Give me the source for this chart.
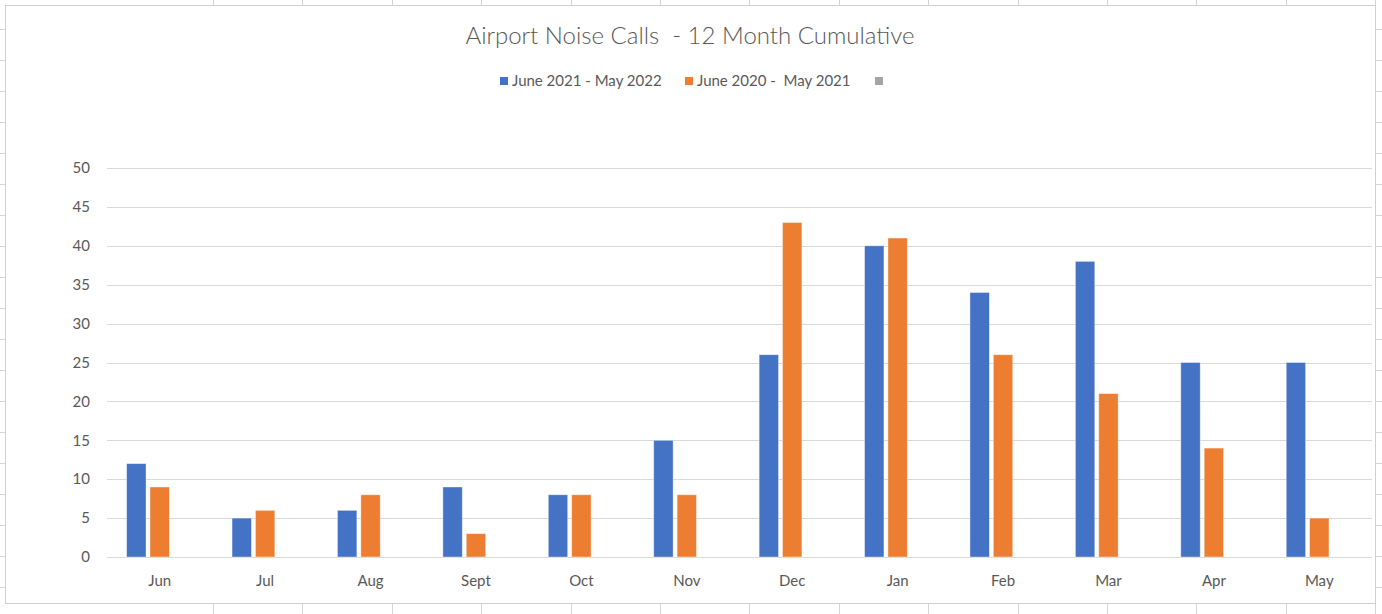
<!DOCTYPE html>
<html>
<head>
<meta charset="utf-8">
<script src="https://cdn.jsdelivr.net/npm/d3@7"></script>
<style>
  body { margin: 0; background: #fff; }
  svg { display: block; }
</style>
</head>
<body>
<div class="chart"></div>
<script>
// months along the x axis
const months = ["Jun", "Jul", "Aug", "Sept", "Oct", "Nov", "Dec", "Jan", "Feb", "Mar", "Apr", "May"]
// series names, the third one has no data in the workbook
const seriesNames = ["June 2021 - May 2022", "June 2020 -  May 2021", ""]
const calls2122 = [12, 5, 6, 9, 8, 15, 26, 40, 34, 38, 25, 25]
const calls2021 = [9, 6, 8, 3, 8, 8, 43, 41, 26, 21, 14, 5]
const callsEmpty = [null, null, null, null, null, null, null, null, null, null, null, null]
const yTicks = [0, 5, 10, 15, 20, 25, 30, 35, 40, 45, 50]

const colors = ["#4472C4", "#ED7D31", "#A5A5A5"]

const width = 1382
const height = 614
const margin = { top: 168, bottom: 57, left: 107, right: 10 }

const svg = d3
  .select(".chart")
  .append("svg")
  .attr("width", width)
  .attr("height", height)

// faint spreadsheet cells behind the chart object
const cellLines = svg.append("g").attr("stroke", "#d4d4d4").attr("stroke-width", 1)
d3.range(213, width, 89.4).forEach((x) => {
  cellLines.append("line").attr("x1", Math.round(x) + 0.5).attr("x2", Math.round(x) + 0.5).attr("y1", 0).attr("y2", height)
})
d3.range(29, height, 31).forEach((y) => {
  cellLines.append("line").attr("x1", 0).attr("x2", width).attr("y1", y + 0.5).attr("y2", y + 0.5)
})

// chart area
svg
  .append("rect")
  .attr("x", 5.5)
  .attr("y", 5.5)
  .attr("width", 1370)
  .attr("height", 598)
  .attr("fill", "#fff")
  .attr("stroke", "#d0d0d0")

const x = d3
  .scaleBand()
  .domain(months)
  .range([margin.left, width - margin.right])

// 3 slots per month, the empty third series still takes its place
const xInner = d3
  .scaleBand()
  .domain(d3.range(3))
  .range([0, x.bandwidth()])
  .paddingInner(0.17)
  .paddingOuter(0.84)

const y = d3
  .scaleLinear()
  .domain([0, 50])
  .range([height - margin.bottom, margin.top])

// gridlines
svg
  .append("g")
  .selectAll("line")
  .data(yTicks)
  .join("line")
  .attr("x1", margin.left)
  .attr("x2", width - margin.right)
  .attr("y1", (d) => Math.round(y(d)) + 0.5)
  .attr("y2", (d) => Math.round(y(d)) + 0.5)
  .attr("stroke", "#d9d9d9")
  .attr("stroke-width", 1.2)

// y labels
svg
  .append("g")
  .selectAll("text")
  .data(yTicks)
  .join("text")
  .attr("x", 90)
  .attr("y", (d) => y(d))
  .attr("dy", "0.35em")
  .attr("text-anchor", "end")
  .attr("font-family", "Lato, sans-serif")
  .attr("font-size", "15px")
  .attr("fill", "#595959")
  .text((d) => d)

// x labels
svg
  .append("g")
  .selectAll("text")
  .data(months)
  .join("text")
  .attr("x", (d) => x(d) + x.bandwidth() / 2)
  .attr("y", 586)
  .attr("text-anchor", "middle")
  .attr("font-family", "Lato, sans-serif")
  .attr("font-size", "15px")
  .attr("fill", "#595959")
  .text((d) => d)

// bars
const series = [calls2122, calls2021, callsEmpty]
const barData = []
series.forEach((vals, s) => {
  vals.forEach((v, i) => {
    if (v != null) barData.push({ month: months[i], s: s, value: v })
  })
})

svg
  .append("g")
  .selectAll("rect")
  .data(barData)
  .join("rect")
  .attr("x", (d) => x(d.month) + xInner(d.s))
  .attr("width", xInner.bandwidth())
  .attr("y", (d) => y(d.value))
  .attr("height", (d) => y(0) - y(d.value))
  .attr("fill", (d) => colors[d.s])
  .attr("stroke", "#ffffff")
  .attr("stroke-opacity", 0.5)
  .attr("stroke-width", 0.8)

// title
svg
  .append("text")
  .attr("x", 690)
  .attr("y", 44)
  .attr("text-anchor", "middle")
  .attr("font-family", "Lato, sans-serif")
  .attr("font-weight", 300)
  .attr("font-size", "24px")
  .attr("fill", "#595959")
  .style("white-space", "pre")
  .text("Airport Noise Calls  - 12 Month Cumulative")

// legend
const legendX = [500, 685, 875]
const legend = svg
  .append("g")
  .selectAll("g")
  .data(seriesNames)
  .join("g")
  .attr("transform", (d, i) => `translate(${legendX[i]}, 81)`)

legend
  .append("rect")
  .attr("x", 0)
  .attr("y", -4)
  .attr("width", 8)
  .attr("height", 8)
  .attr("fill", (d, i) => colors[i])

legend
  .append("text")
  .attr("x", 12)
  .attr("dy", "0.35em")
  .attr("font-family", "Lato, sans-serif")
  .attr("font-size", "15px")
  .attr("fill", "#595959")
  .style("white-space", "pre")
  .text((d) => d)
</script>
</body>
</html>
